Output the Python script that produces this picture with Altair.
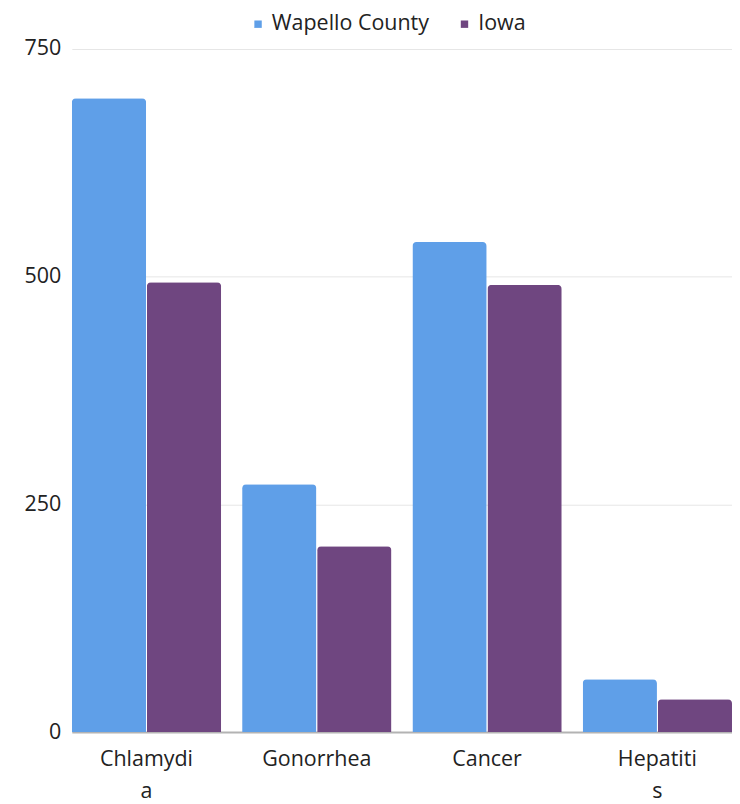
import altair as alt
import pandas as pd

categories = ["Chlamydia", "Gonorrhea", "Cancer", "Hepatitis"]
series = ["Wapello County", "Iowa"]
wapello = [696, 272, 538, 58]
iowa = [494, 204, 491, 36]
y_ticks = [0, 250, 500, 750]
colors = ["#5f9fe8", "#6f4680"]

rows = []
for i, c in enumerate(categories):
    rows.append({"category": c, "series": series[0], "value": wapello[i]})
    rows.append({"category": c, "series": series[1], "value": iowa[i]})
df = pd.DataFrame(rows)

font = "Open Sans"
fs = 21.5
label_expr = ("datum.value == 'Chlamydia' ? ['Chlamydi', 'a'] : "
              "datum.value == 'Hepatitis' ? ['Hepatiti', 's'] : datum.value")

chart = alt.Chart(df).mark_bar(cornerRadiusTopLeft=4, cornerRadiusTopRight=4).encode(
    x=alt.X("category:N", sort=categories, title=None,
            scale=alt.Scale(paddingInner=0.123, paddingOuter=0),
            axis=alt.Axis(labelAngle=0, labelExpr=label_expr, labelFont=font,
                          labelFontSize=fs, labelColor="#222222", ticks=False,
                          domainColor="#b3b3b3", domainWidth=2, labelPadding=16,
                          labelLineHeight=33, grid=False)),
    xOffset=alt.XOffset("series:N", sort=series,
                        scale=alt.Scale(paddingInner=0.01, paddingOuter=0)),
    y=alt.Y("value:Q", title=None,
            scale=alt.Scale(domain=[0, 750], nice=False),
            axis=alt.Axis(values=y_ticks, labelFont=font, labelFontSize=fs,
                          labelColor="#222222", ticks=False, domain=False,
                          gridColor="#e6e6e6", labelPadding=11)),
    color=alt.Color("series:N", sort=series,
                    scale=alt.Scale(domain=series, range=colors),
                    legend=alt.Legend(title=None, orient="none", direction="horizontal",
                                      legendX=176, legendY=-36, symbolType="square",
                                      symbolSize=55, labelFont=font, labelFontSize=fs,
                                      labelColor="#222222", columnPadding=24,
                                      labelOffset=3, symbolStrokeWidth=0)),
).properties(
    width=662, height=685,
    padding={"left": 64, "top": 40, "right": 0, "bottom": 74},
    autosize=alt.AutoSizeParams(type="none"),
).configure_view(stroke=None)

chart.save("out.html", embed_options={"renderer": "svg", "actions": False})
